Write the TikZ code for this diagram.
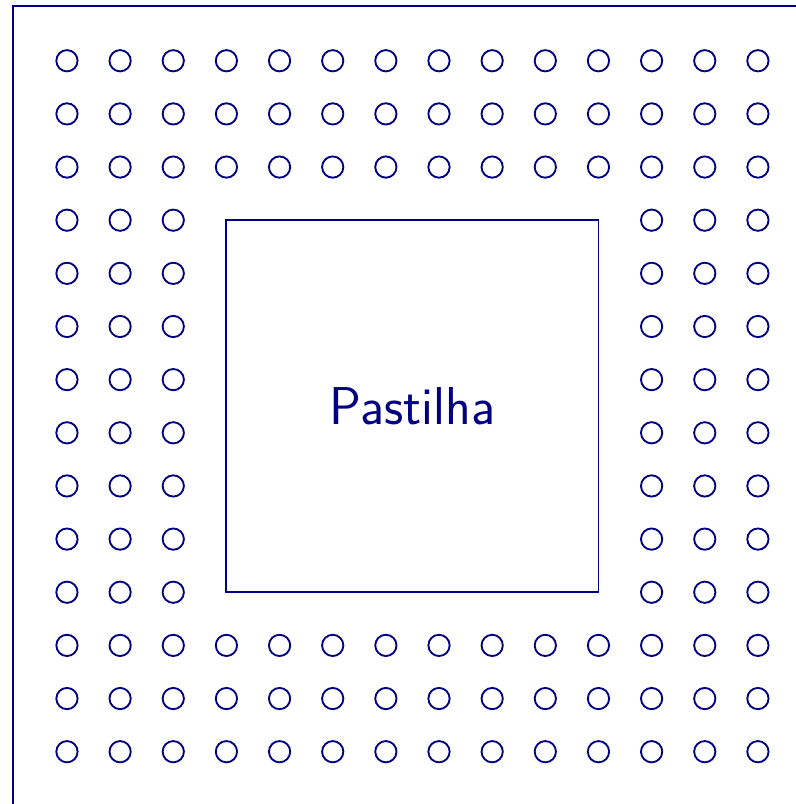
\documentclass[tikz,border=0pt]{standalone}
\usepackage{tikz}
\definecolor{navy}{RGB}{0,0,128}

\begin{document}
\begin{tikzpicture}[every node/.style={draw=navy,outer sep=0pt,line width=1pt}]
\tikzstyle{ball}=[circle,inner sep=0pt,minimum size=0.4cm]
\tikzstyle{die}=[rectangle,minimum size=7cm,text=navy,font=\sffamily\fontsize{28.5}{32}\selectfont]

\useasboundingbox (-1.26,-0.984) rectangle (13.716,14.143);

% package outline
\draw [navy,line width=1.1pt] (-1.02,-1.2) -- (-1.02,14.03) -- (13.9,14.03);

% die in the middle
\node (die) [die] at (6.5,6.5) {Pastilha};

% ball grid, no balls under the die
\foreach \i in {0,...,13} {
  \foreach \j in {0,...,13} {
    \pgfmathtruncatemacro\inside{(\i>2)&&(\i<11)&&(\j>2)&&(\j<11)}
    \ifnum\inside=0
      \node (b-\i-\j) [ball] at (\i,\j) {};
    \fi
  }
}
\end{tikzpicture}
\end{document}
